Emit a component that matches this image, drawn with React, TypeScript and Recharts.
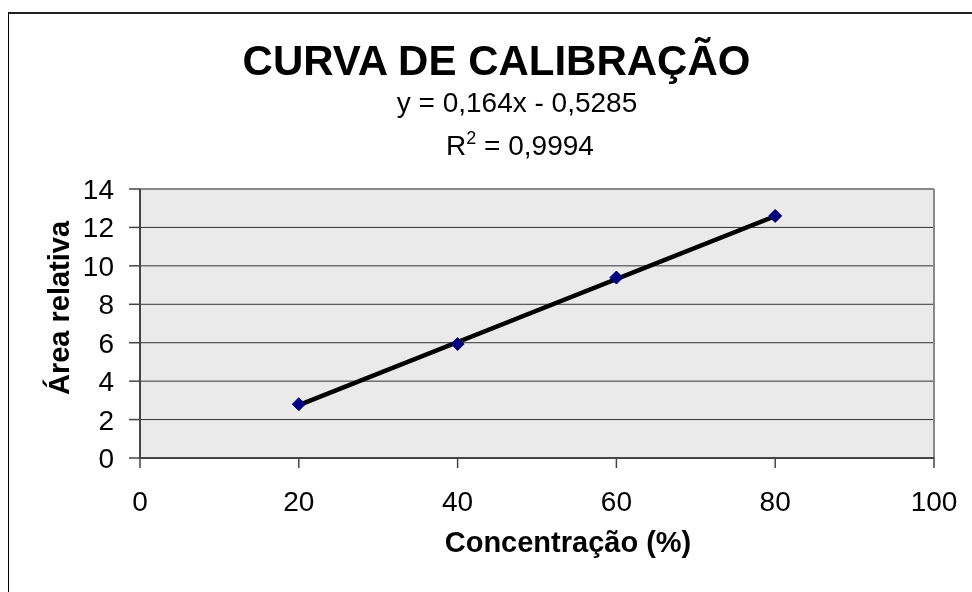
import React from 'react';
import { LineChart, Line, XAxis, YAxis, CartesianGrid, ReferenceLine } from 'recharts';

const concentrations = [20, 40, 60, 80];
const relativeAreas = [2.8, 5.93, 9.39, 12.6];
const trendX = [20, 80];
const trendY = [2.7515, 12.5915];
const xTicks = [0, 20, 40, 60, 80, 100];
const yTicks = [0, 2, 4, 6, 8, 10, 12, 14];

const titleText = 'CURVA DE CALIBRAÇÃO';
const equationText = 'y = 0,164x - 0,5285';
const r2Value = ' = 0,9994';
const xTitle = 'Concentração (%)';
const yTitle = 'Área relativa';

const FONT = '"Liberation Sans", Arial, sans-serif';

const pointData = concentrations.map((x, i) => ({ x, y: relativeAreas[i] }));
const trendData = trendX.map((x, i) => ({ x, y: trendY[i] }));

const Diamond = (props: any) => {
  const { cx, cy } = props;
  if (cx == null || cy == null) return null;
  const r = 6.5;
  return (
    <polygon
      points={`${cx},${cy - r} ${cx + r},${cy} ${cx},${cy + r} ${cx - r},${cy}`}
      fill="#000080"
      stroke="#000080"
      strokeWidth={1}
    />
  );
};

export default function App() {
  return (
    <div style={{ position: 'relative', width: 964, height: 576, background: '#fff' }}>
      <div
        style={{
          position: 'fixed',
          left: 8,
          top: 12,
          width: 2000,
          height: 2000,
          borderLeft: '1.5px solid #000',
          borderTop: '2px solid #222',
          pointerEvents: 'none',
        }}
      />
      <div style={{ position: 'absolute', left: 0, top: 0 }}>
        <LineChart width={964} height={576} margin={{ top: 181, right: 38, bottom: 66, left: 32 }}>
          <CartesianGrid horizontal vertical={false} fill="#EAEAEA" stroke="#333" strokeWidth={1} />
          <XAxis
            type="number"
            dataKey="x"
            domain={[0, 100]}
            ticks={xTicks}
            height={60}
            tickSize={10}
            tickMargin={23}
            axisLine={{ stroke: '#444', strokeWidth: 2 }}
            tickLine={{ stroke: '#444', strokeWidth: 1.5 }}
            tick={{ fontSize: 28, fill: '#000', fontFamily: FONT }}
            allowDataOverflow
          />
          <YAxis
            type="number"
            domain={[0, 14]}
            ticks={yTicks}
            width={100}
            tickSize={11}
            tickMargin={15}
            axisLine={{ stroke: '#444', strokeWidth: 2 }}
            tickLine={{ stroke: '#444', strokeWidth: 1.5 }}
            tick={{ fontSize: 28, fill: '#000', fontFamily: FONT }}
            allowDataOverflow
          />
          <ReferenceLine y={14} stroke="#888" strokeWidth={2} />
          <ReferenceLine x={100} stroke="#888" strokeWidth={2} />
          <Line
            data={pointData}
            dataKey="y"
            stroke="none"
            dot={<Diamond />}
            activeDot={false}
            isAnimationActive={false}
          />
          <Line
            data={trendData}
            dataKey="y"
            stroke="#000"
            strokeWidth={4.5}
            dot={false}
            activeDot={false}
            isAnimationActive={false}
          />
        </LineChart>
      </div>
      <svg
        width={964}
        height={576}
        style={{ position: 'absolute', left: 0, top: 0, pointerEvents: 'none' }}
        fontFamily={FONT}
      >
        <text x={488.5} y={67} textAnchor="middle" fontSize={42} fontWeight="bold" fill="#000">
          {titleText}
        </text>
        <text x={509} y={103.7} textAnchor="middle" fontSize={28} fill="#000">
          {equationText}
        </text>
        <text x={512} y={147} textAnchor="middle" fontSize={28} fill="#000">
          <tspan>R</tspan>
          <tspan dy={-11} fontSize={18}>2</tspan>
          <tspan dy={11}>{r2Value}</tspan>
        </text>
        <text x={560} y={543.7} textAnchor="middle" fontSize={29} fontWeight="bold" fill="#000">
          {xTitle}
        </text>
        <text
          x={61}
          y={300}
          textAnchor="middle"
          fontSize={29}
          fontWeight="bold"
          fill="#000"
          transform="rotate(-90, 61, 300)"
        >
          {yTitle}
        </text>
      </svg>
    </div>
  );
}
